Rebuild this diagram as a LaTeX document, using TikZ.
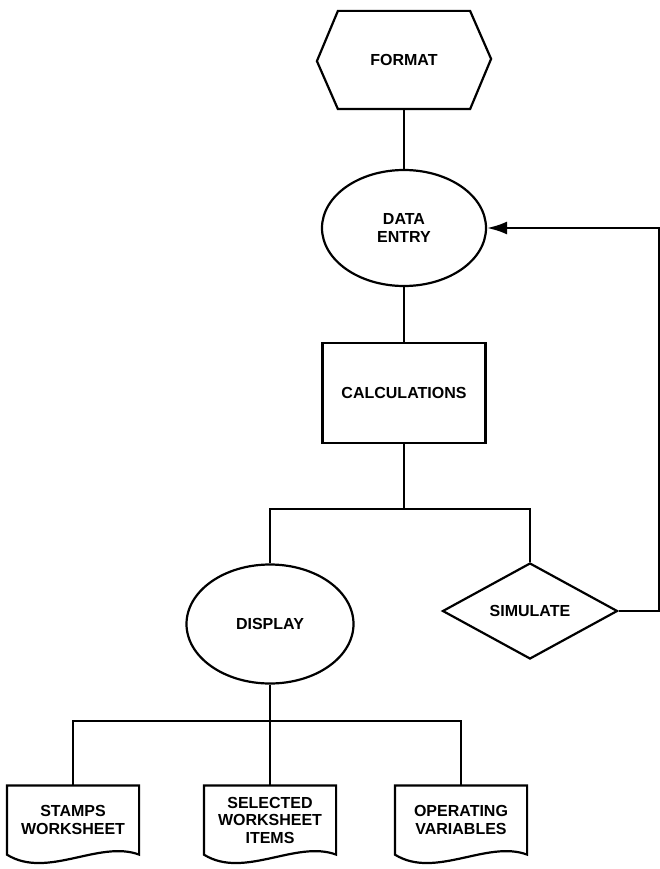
\documentclass[tikz,border=0pt]{standalone}
\usepackage{fontspec}
\setmainfont{Liberation Sans}
\usetikzlibrary{shapes.geometric, arrows.meta}

\begin{document}
\begin{tikzpicture}[>={Latex[length=20pt,width=13pt]}, line width=2.2pt,
                  node distance=165pt,
                  font=\fontsize{16}{17.5}\selectfont\bfseries,
                  prep/.style={rectangle, minimum width=130pt,
                    minimum height=96pt, inner sep=0pt},
                  oval/.style={draw, ellipse, align=center, inner sep=0pt},
                  box/.style={draw, rectangle, minimum width=163pt,
                    minimum height=100pt, inner sep=0pt},
                  choice/.style={draw, diamond, minimum width=175pt,
                    minimum height=96pt, inner sep=0pt},
                  report/.style={rectangle, align=center, minimum width=130pt,
                    minimum height=67pt, inner sep=0pt}]

                  \useasboundingbox (0pt,0pt) rectangle (659pt,-869pt);

                  % Las cajas del diagrama.
                  \node[prep] (format) at (404pt,-60pt) {FORMAT};
                  \node[oval, minimum width=164pt, minimum height=116pt,
                    below of=format, node distance=168pt] (entry) {DATA\\ENTRY};
                  \node[box, below of=entry] (calc) {CALCULATIONS};
                  \node[oval, minimum width=167pt, minimum height=119pt,
                    below of=calc, node distance=231pt, xshift=-134pt] (display) {DISPLAY};
                  \node[choice, below of=calc, node distance=218pt,
                    xshift=126pt] (simulate) {SIMULATE};
                  \node[report, below of=display, node distance=196pt]
                    (selected) {SELECTED\\WORKSHEET\\ITEMS};
                  \node[report, left of=selected, node distance=197pt]
                    (stamps) {STAMPS\\WORKSHEET};
                  \node[report, right of=selected, node distance=191pt]
                    (operating) {OPERATING\\VARIABLES};

                  % Contorno del hexagono y de los documentos.
                  \draw (format.north west) -- (format.north east) -- ++(21pt,-48pt)
                    -- (format.south east) -- (format.south west) -- ++(-21pt,48pt)
                    -- cycle;
                  \foreach \doc in {stamps, selected, operating}
                    \draw (\doc.south east) -- (\doc.north east) -- (\doc.north west)
                      -- (\doc.south west) .. controls +(40pt,-25pt) and +(-40pt,15pt)
                      .. (\doc.south east) -- cycle;

                  % Las conexiones.
                  \draw (format) -- (entry);
                  \draw (entry) -- (calc);
                  \draw (calc.south) -- ++(0,-65pt) coordinate (split);
                  \draw (display.north) |- (split) -| (simulate.north);
                  \draw (display.south) -- ++(0,-36pt) coordinate (fork);
                  \draw (stamps.north) |- (fork) -| (operating.north);
                  \draw (fork) -- (selected.north);
                  \draw[->] (simulate.east) -- ++(40pt,0) coordinate (back)
                    |- (entry.east);

                \end{tikzpicture}
\end{document}
